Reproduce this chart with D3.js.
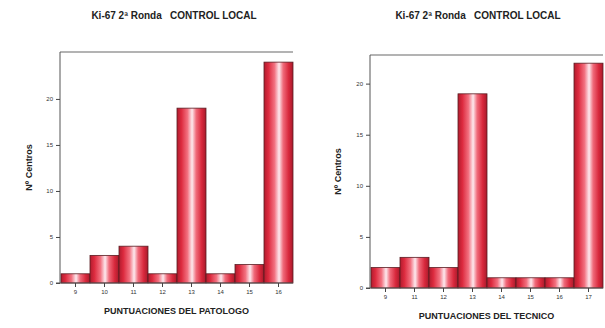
<!DOCTYPE html>
<html>
<head>
<meta charset="utf-8">
<script src="https://cdn.jsdelivr.net/npm/d3@7"></script>
<style>
  body { margin: 0; background: #fff; }
  svg { display: block; font-family: "Liberation Sans", Arial, sans-serif; }
  .title { white-space: pre; }
</style>
</head>
<body>
<div id="chart"></div>
<script>
// data
var titles = ["Ki-67 2ª Ronda   CONTROL LOCAL", "Ki-67 2ª Ronda   CONTROL LOCAL"];
var xTitles = ["PUNTUACIONES DEL PATOLOGO", "PUNTUACIONES DEL TECNICO"];
var patologoCats = ["9", "10", "11", "12", "13", "14", "15", "16"];
var patologoVals = [1, 3, 4, 1, 19, 1, 2, 24];
var tecnicoCats = ["9", "11", "12", "13", "14", "15", "16", "17"];
var tecnicoVals = [2, 3, 2, 19, 1, 1, 1, 22];
var yTicks = [0, 5, 10, 15, 20];

var W = 605, H = 328;
var svg = d3.select("#chart").append("svg")
    .attr("width", W)
    .attr("height", H);

var defs = svg.append("defs");
var grad = defs.append("linearGradient")
    .attr("id", "barGrad")
    .attr("x1", "0%").attr("x2", "100%")
    .attr("y1", "0%").attr("y2", "0%");
grad.selectAll("stop")
    .data([
        [0, "#b01c2e"], [0.15, "#dc2a3e"], [0.36, "#f2707f"],
        [0.52, "#fde9ee"], [0.66, "#f06a7a"], [0.85, "#d8283c"], [1, "#a81a2b"]
    ])
    .enter().append("stop")
    .attr("offset", function(d) { return d[0]; })
    .attr("stop-color", function(d) { return d[1]; });

function drawPanel(opt)
{
    var g = svg.append("g");

    var x = d3.scaleBand()
        .domain(opt.cats)
        .range([opt.left + 1, opt.right])
        .paddingInner(0)
        .paddingOuter(0);

    var y = d3.scaleLinear()
        .domain([0, opt.yMax])
        .range([opt.bottom, opt.top]);

    // frame (top line only, like the original)
    g.append("line")
        .attr("x1", opt.left).attr("x2", opt.right)
        .attr("y1", opt.top).attr("y2", opt.top)
        .attr("stroke", "#9a9a9a").attr("stroke-width", 1.5);

    g.append("text")
        .attr("class", "title")
        .attr("x", opt.titleX)
        .attr("y", 19)
        .attr("text-anchor", "middle")
        .attr("font-weight", "bold")
        .attr("font-size", 10)
        .attr("fill", "#222")
        .text(opt.title);

    g.selectAll(".bar")
        .data(opt.vals)
        .enter().append("rect")
        .attr("class", "bar")
        .attr("x", function(d, i) { return x(opt.cats[i]); })
        .attr("width", x.bandwidth())
        .attr("y", function(d) { return y(d); })
        .attr("height", function(d) { return opt.bottom - y(d); })
        .attr("fill", "url(#barGrad)")
        .attr("stroke", "#5a1c22")
        .attr("stroke-width", 0.8);

    var yAxis = d3.axisLeft(y)
        .tickValues(yTicks)
        .tickSize(4)
        .tickFormat(d3.format("d"));

    var ya = g.append("g")
        .attr("transform", "translate(" + opt.left + ",0)")
        .call(yAxis);
    ya.select(".domain").attr("stroke", "#555").attr("d", "M0," + opt.top + "V" + opt.bottom);
    ya.selectAll(".tick line").attr("stroke", "#444");
    ya.selectAll("text").attr("font-size", 6).attr("fill", "#333")
        .attr("font-family", "Liberation Sans, Arial, sans-serif");

    var xAxis = d3.axisBottom(x).tickSize(4);
    var xa = g.append("g")
        .attr("transform", "translate(0," + opt.bottom + ")")
        .call(xAxis);
    xa.select(".domain").attr("stroke", "#555")
        .attr("d", "M" + (opt.left - 4) + ",0H" + opt.right);
    xa.selectAll(".tick line").attr("stroke", "#444");
    xa.selectAll("text").attr("font-size", 6).attr("fill", "#333")
        .attr("font-family", "Liberation Sans, Arial, sans-serif");

    g.append("text")
        .attr("transform", "translate(" + opt.yLabelX + "," + ((opt.top + opt.bottom) / 2) + ") rotate(-90)")
        .attr("text-anchor", "middle")
        .attr("font-weight", "bold")
        .attr("font-size", 9)
        .attr("fill", "#222")
        .text("Nº Centros");

    g.append("text")
        .attr("x", (opt.left + opt.right) / 2)
        .attr("y", opt.xLabelY)
        .attr("text-anchor", "middle")
        .attr("font-weight", "bold")
        .attr("font-size", 9)
        .attr("fill", "#222")
        .text(opt.xTitle);
}

drawPanel({
    cats: patologoCats, vals: patologoVals, title: titles[0], xTitle: xTitles[0],
    left: 60, right: 293, top: 52, bottom: 283, yMax: 25.1,
    titleX: 174, yLabelX: 32, xLabelY: 314
});

drawPanel({
    cats: tecnicoCats, vals: tecnicoVals, title: titles[1], xTitle: xTitles[1],
    left: 370, right: 603, top: 55, bottom: 288, yMax: 22.8,
    titleX: 478, yLabelX: 341, xLabelY: 319
});
</script>
</body>
</html>
